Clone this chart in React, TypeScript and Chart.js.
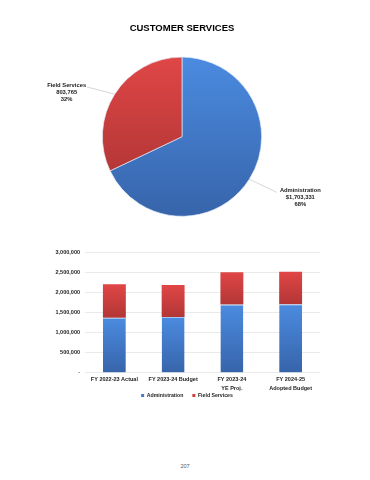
import React, { useEffect, useRef } from 'react';
import { Chart, registerables } from 'chart.js';

Chart.register(...registerables);

const pageTitle = 'CUSTOMER SERVICES';
const pieLabels = ['Administration', 'Field Services'];
const pieValues = [1703331, 803765];
const pieValueTexts = ['$1,703,331', '803,765'];
const piePercents = ['68%', '32%'];

const barCategories = [['FY 2022-23 Actual'], ['FY 2023-24 Budget'], ['FY 2023-24', 'YE Proj.'], ['FY 2024-25', 'Adopted Budget']];
const adminValues = [1370000, 1385000, 1695000, 1703331];
const fieldValues = [830000, 795000, 800000, 803765];
const yMax = 3000000;
const yStep = 500000;
const pageNumber = '207';

const FONT = "'Liberation Sans', Arial, sans-serif";
const BLUE = ['#4b8be0', '#3764aa'];
const RED = ['#e04646', '#b33636'];

function grad(ctx: CanvasRenderingContext2D, top: number, bottom: number, c: string[]) {
  const g = ctx.createLinearGradient(0, top, 0, bottom);
  g.addColorStop(0, c[0]);
  g.addColorStop(1, c[1]);
  return g;
}

const pieLabelPlugin = {
  id: 'pieLabels',
  afterDatasetsDraw(chart: any) {
    const ctx = chart.ctx;
    const meta = chart.getDatasetMeta(0);
    ctx.save();
    ctx.font = `bold 5.8px ${FONT}`;
    meta.data.forEach((arc: any, i: number) => {
      const { x, y, startAngle, endAngle, outerRadius } = arc.getProps(['x', 'y', 'startAngle', 'endAngle', 'outerRadius'], true);
      const mid = (startAngle + endAngle) / 2;
      const cx = Math.cos(mid), cy = Math.sin(mid);
      const sx = x + cx * outerRadius, sy = y + cy * outerRadius;
      const ex = x + cx * outerRadius * 1.41, ey = y + cy * outerRadius * 1.24 + 3;
      ctx.strokeStyle = '#c4c4c4';
      ctx.lineWidth = 0.7;
      ctx.beginPath();
      ctx.moveTo(sx, sy);
      ctx.lineTo(ex, ey);
      ctx.stroke();
      const lines = [pieLabels[i], pieValueTexts[i], piePercents[i]];
      const w = Math.max(...lines.map((l) => ctx.measureText(l).width));
      const tx = cx < 0 ? ex - 1 - w / 2 : ex + 3 + w / 2;
      ctx.fillStyle = '#1a1a1a';
      ctx.textAlign = 'center';
      ctx.textBaseline = 'middle';
      lines.forEach((l, k) => ctx.fillText(l, tx, ey - 2 + k * 7.2));
    });
    ctx.restore();
  },
};

const legendShiftPlugin = {
  id: 'legendShift',
  afterLayout(chart: any) {
    const lg = chart.legend;
    if (lg) {
      lg.top -= 7;
      lg.bottom -= 7;
    }
  },
};

function PieChart() {
  const ref = useRef<HTMLCanvasElement>(null);
  useEffect(() => {
    const chart = new Chart(ref.current!, {
      type: 'pie',
      data: {
        labels: pieLabels,
        datasets: [
          {
            data: pieValues,
            backgroundColor: (c: any) => {
              const a = c.chart.chartArea;
              const col = c.dataIndex === 0 ? BLUE : RED;
              if (!a) return col[0];
              return c.dataIndex === 0 ? grad(c.chart.ctx, a.top, a.bottom, BLUE) : grad(c.chart.ctx, a.top, a.top + a.height * 0.75, RED);
            },
            borderColor: 'rgba(225,234,248,0.85)',
            borderWidth: 0.8,
            hoverOffset: 0,
          },
        ],
      },
      options: {
        responsive: false,
        animation: false,
        layout: { padding: { left: 102, right: 108, top: 0, bottom: 23 } },
        plugins: {
          legend: { display: false },
          tooltip: { enabled: false },
          title: {
            display: true,
            text: pageTitle,
            color: '#000',
            font: { family: FONT, size: 9.5, weight: 'bold', lineHeight: 1.2 },
            padding: { top: 23, bottom: 22 },
          },
        },
      },
      plugins: [pieLabelPlugin],
    } as any);
    return () => chart.destroy();
  }, []);
  return <canvas ref={ref} width={370} height={240} style={{ position: 'absolute', left: 0, top: 0, width: 370, height: 240 }} />;
}

function BarChart() {
  const ref = useRef<HTMLCanvasElement>(null);
  useEffect(() => {
    const segGrad = (c: any, ds: number) => {
      const col = ds === 0 ? BLUE : RED;
      const chart = c.chart;
      const ys = chart.scales && chart.scales.y;
      if (c.type !== 'data' || !ys || !chart.chartArea) return col[0];
      const i = c.dataIndex;
      const lo = ds === 0 ? 0 : adminValues[i];
      const hi = ds === 0 ? adminValues[i] : adminValues[i] + fieldValues[i];
      const top = ys.getPixelForValue(hi);
      const bottom = ys.getPixelForValue(lo);
      if (!isFinite(top) || !isFinite(bottom) || top === bottom) return col[0];
      return grad(chart.ctx, top, bottom, col);
    };
    const tickFont = { family: FONT, size: 5.5, weight: 'bold' };
    const chart = new Chart(ref.current!, {
      type: 'bar',
      data: {
        labels: barCategories,
        datasets: [
          {
            label: 'Administration',
            data: adminValues,
            backgroundColor: (c: any) => segGrad(c, 0),
            borderColor: 'rgba(160,196,240,0.95)',
            borderWidth: { top: 1, bottom: 0, left: 0, right: 0 },
            borderSkipped: false,
            barPercentage: 0.39,
            categoryPercentage: 1,
          },
          {
            label: 'Field Services',
            data: fieldValues,
            backgroundColor: (c: any) => segGrad(c, 1),
            borderWidth: 0,
            barPercentage: 0.39,
            categoryPercentage: 1,
          },
        ],
      },
      options: {
        responsive: false,
        animation: false,
        layout: { padding: { left: 27, right: 23, top: 12, bottom: 5 } },
        scales: {
          x: {
            stacked: true,
            grid: { display: false, drawTicks: false },
            border: { display: false },
            ticks: { color: '#222', font: { ...tickFont, lineHeight: 1.65 }, padding: 2, maxRotation: 0, autoSkip: false },
            afterFit: (s: any) => {
              s.height = 18;
            },
          },
          y: {
            stacked: true,
            min: 0,
            max: yMax,
            grid: { color: '#e4e4e4', lineWidth: 0.8, drawTicks: false },
            border: { display: false },
            ticks: {
              stepSize: yStep,
              color: '#222',
              font: tickFont,
              padding: 5,
              callback: (v: any) => (v === 0 ? '-' : Number(v).toLocaleString('en-US')),
            },
            afterFit: (s: any) => {
              s.width = 58;
            },
          },
          yR: {
            type: 'linear',
            position: 'right',
            display: true,
            grid: { display: false, drawTicks: false },
            border: { display: false },
            ticks: { display: false },
            afterFit: (s: any) => {
              s.width = 27;
            },
          },
        },
        plugins: {
          tooltip: { enabled: false },
          legend: {
            position: 'bottom',
            labels: {
              boxWidth: 3,
              boxHeight: 3,
              padding: 9,
              color: '#222',
              font: { family: FONT, size: 5.2, weight: 'bold' },
              generateLabels: (chart: any) =>
                chart.data.datasets.map((d: any, i: number) => ({
                  text: d.label,
                  fillStyle: i === 0 ? '#4479c8' : '#d04040',
                  strokeStyle: 'rgba(0,0,0,0)',
                  lineWidth: 0,
                  hidden: false,
                  datasetIndex: i,
                  fontColor: '#222',
                })),
            },
          },
        },
      },
      plugins: [legendShiftPlugin],
    } as any);
    return () => chart.destroy();
  }, []);
  return <canvas ref={ref} width={370} height={180} style={{ position: 'absolute', left: 0, top: 240, width: 370, height: 180 }} />;
}

export default function App() {
  return (
    <div style={{ position: 'absolute', left: 0, top: 0, width: 370, height: 480, background: '#fff', overflow: 'hidden' }}>
      <PieChart />
      <BarChart />
      <div
        style={{
          position: 'absolute',
          left: 0,
          width: 370,
          top: 462,
          textAlign: 'center',
          fontFamily: FONT,
          fontSize: 5.5,
          color: '#555',
          lineHeight: '8px',
        }}
      >
        {pageNumber}
      </div>
    </div>
  );
}
